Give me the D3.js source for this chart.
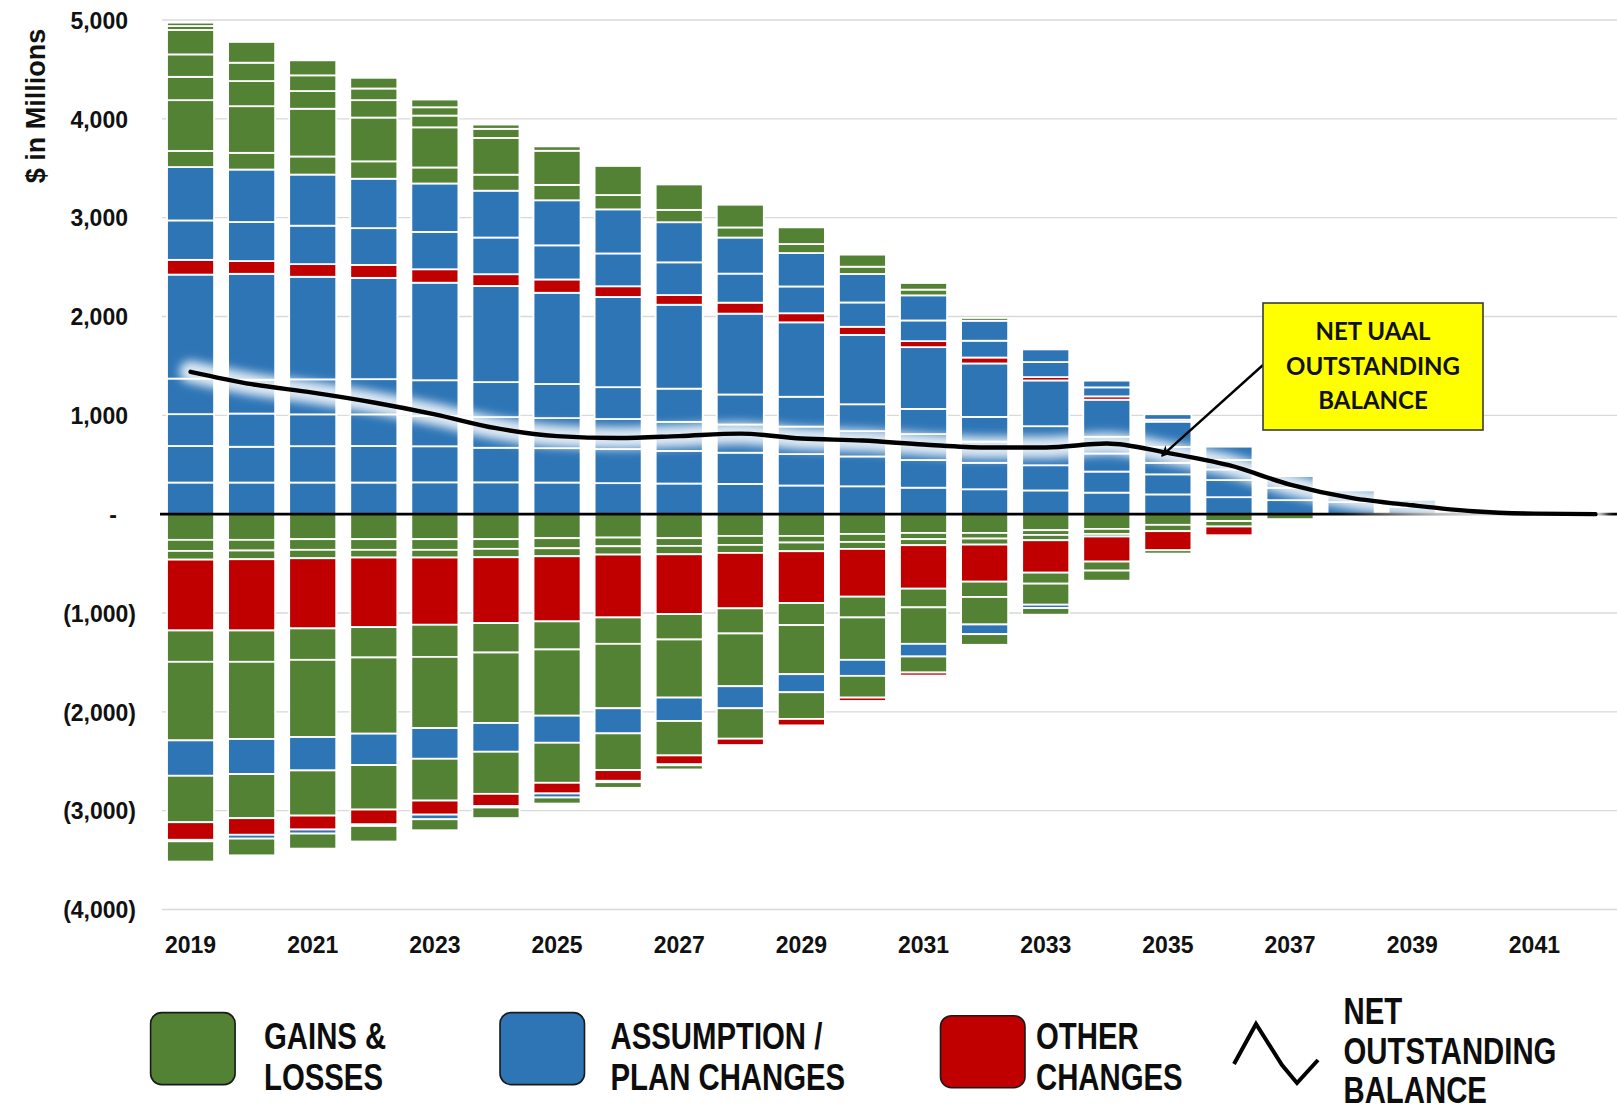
<!DOCTYPE html>
<html>
<head>
<meta charset="utf-8">
<script src="https://cdn.jsdelivr.net/npm/d3@7"></script>
<style>
  html, body { margin: 0; padding: 0; background: #ffffff; }
  svg { display: block; }
</style>
</head>
<body>
<svg id="chart" width="1617" height="1112"></svg>
<script>
// ---- categories and axes ----
const years = [2019, 2020, 2021, 2022, 2023, 2024, 2025, 2026, 2027, 2028, 2029, 2030,
               2031, 2032, 2033, 2034, 2035, 2036, 2037, 2038, 2039, 2040, 2041, 2042];
const labelYears = [2019, 2021, 2023, 2025, 2027, 2029, 2031, 2033, 2035, 2037, 2039, 2041];
const yTicks = [5000, 4000, 3000, 2000, 1000, 0, -1000, -2000, -3000, -4000];

// ---- amortization layers above zero, bottom to top ($ millions) ----
const planUp1  = [320, 320, 320, 320, 322, 322, 320, 314, 310, 306, 290, 282, 268, 252, 240, 218, 200, 172, 142, 122, 75, 30, 0, 0];
const planUp2  = [370, 362, 368, 370, 365, 350, 348, 345, 330, 316, 318, 302, 280, 268, 255, 213, 203, 173, 125, 118, 70, 0, 0, 0];
const planUp3  = [322, 336, 322, 320, 306, 310, 304, 304, 294, 285, 278, 256, 262, 214, 192, 183, 117, 108, 118, 0, 0, 0, 0, 0];
const planUp4  = [360, 342, 354, 356, 362, 354, 345, 322, 336, 304, 302, 272, 255, 250, 203, 169, 160, 95, 0, 0, 0, 0, 0, 0];
const planUp5  = [1052, 1072, 1038, 1025, 987, 973, 923, 913, 849, 818, 753, 702, 625, 541, 463, 375, 256, 135, 0, 0, 0, 0, 0, 0];
const otherUp1 = [149, 129, 128, 131, 136, 119, 135, 108, 98, 111, 92, 82, 61, 60, 34, 34, 20, 0, 0, 0, 0, 0, 0, 0];
const planUp6  = [399, 395, 389, 372, 378, 371, 345, 332, 331, 294, 271, 246, 209, 170, 152, 91, 55, 0, 0, 0, 0, 0, 0, 0];
const planUp7  = [540, 531, 517, 500, 490, 474, 456, 446, 406, 365, 338, 288, 254, 202, 128, 68, 0, 0, 0, 0, 0, 0, 0, 0];
const gainUp1  = [163, 169, 183, 176, 162, 162, 156, 145, 125, 102, 91, 74, 58, 28, 0, 0, 0, 0, 0, 0, 0, 0, 0, 0];
const gainUp2  = [514, 472, 483, 443, 406, 372, 345, 294, 257, 230, 169, 122, 67, 0, 0, 0, 0, 0, 0, 0, 0, 0, 0, 0];
const gainUp3  = [236, 254, 179, 176, 119, 92, 44, 0, 0, 0, 0, 0, 0, 0, 0, 0, 0, 0, 0, 0, 0, 0, 0, 0];
const gainUp4  = [227, 186, 159, 118, 84, 43, 0, 0, 0, 0, 0, 0, 0, 0, 0, 0, 0, 0, 0, 0, 0, 0, 0, 0];
const gainUp5  = [247, 210, 152, 108, 78, 0, 0, 0, 0, 0, 0, 0, 0, 0, 0, 0, 0, 0, 0, 0, 0, 0, 0, 0];
const gainUp6  = [40, 0, 0, 0, 0, 0, 0, 0, 0, 0, 0, 0, 0, 0, 0, 0, 0, 0, 0, 0, 0, 0, 0, 0];
const gainUp7  = [34, 0, 0, 0, 0, 0, 0, 0, 0, 0, 0, 0, 0, 0, 0, 0, 0, 0, 0, 0, 0, 0, 0, 0];

// ---- amortization layers below zero, from zero downward (magnitudes) ----
const gainDn1  = [260, 260, 253, 253, 253, 253, 243, 237, 243, 220, 220, 200, 190, 190, 162, 149, 108, 70, 50, 0, 0, 0, 0, 0];
const gainDn2  = [112, 108, 108, 108, 108, 98, 102, 88, 78, 91, 67, 81, 63, 57, 48, 51, 64, 55, 0, 0, 0, 0, 0, 0];
const gainDn3  = [88, 88, 85, 78, 78, 85, 81, 84, 85, 81, 88, 71, 61, 61, 54, 26, 0, 0, 0, 0, 0, 0, 0, 0];
const otherDn1 = [717, 721, 710, 704, 680, 666, 659, 636, 605, 561, 524, 483, 440, 375, 328, 254, 193, 88, 0, 0, 0, 0, 0, 0];
const gainDn4  = [317, 317, 318, 307, 325, 298, 284, 267, 257, 254, 223, 210, 189, 155, 111, 91, 34, 0, 0, 0, 0, 0, 0, 0];
const gainDn5  = [795, 781, 781, 771, 720, 713, 670, 652, 588, 534, 497, 429, 369, 278, 213, 102, 0, 0, 0, 0, 0, 0, 0, 0];
const planDn1  = [358, 355, 338, 318, 311, 291, 274, 254, 237, 223, 183, 162, 128, 98, 34, 0, 0, 0, 0, 0, 0, 0, 0, 0];
const gainDn6  = [470, 446, 457, 450, 423, 426, 405, 372, 348, 308, 270, 220, 162, 108, 67, 0, 0, 0, 0, 0, 0, 0, 0, 0];
const otherDn2 = [178, 168, 141, 150, 142, 122, 108, 108, 90, 64, 65, 34, 31, 0, 0, 0, 0, 0, 0, 0, 0, 0, 0, 0];
const planDn2  = [15, 39, 41, 16, 47, 16, 41, 14, 10, 0, 0, 0, 0, 0, 0, 0, 0, 0, 0, 0, 0, 0, 0, 0];
const gainDn7  = [205, 169, 152, 157, 111, 107, 61, 57, 42, 0, 0, 0, 0, 0, 0, 0, 0, 0, 0, 0, 0, 0, 0, 0];

// ---- net UAAL outstanding balance ----
const netBalance = [1440, 1315, 1230, 1130, 1010, 870, 790, 770, 790, 815, 765, 745,
                    705, 675, 675, 715, 620, 495, 300, 165, 90, 30, 5, 0];

const colors = { gains: "#548235", plan: "#2E75B6", other: "#C00000" };

// stacking order: positive layers first, then negative ones
const layers = [
  { key: "planUp1", cat: "plan", sign: 1, values: planUp1 },
  { key: "planUp2", cat: "plan", sign: 1, values: planUp2 },
  { key: "planUp3", cat: "plan", sign: 1, values: planUp3 },
  { key: "planUp4", cat: "plan", sign: 1, values: planUp4 },
  { key: "planUp5", cat: "plan", sign: 1, values: planUp5 },
  { key: "otherUp1", cat: "other", sign: 1, values: otherUp1 },
  { key: "planUp6", cat: "plan", sign: 1, values: planUp6 },
  { key: "planUp7", cat: "plan", sign: 1, values: planUp7 },
  { key: "gainUp1", cat: "gains", sign: 1, values: gainUp1 },
  { key: "gainUp2", cat: "gains", sign: 1, values: gainUp2 },
  { key: "gainUp3", cat: "gains", sign: 1, values: gainUp3 },
  { key: "gainUp4", cat: "gains", sign: 1, values: gainUp4 },
  { key: "gainUp5", cat: "gains", sign: 1, values: gainUp5 },
  { key: "gainUp6", cat: "gains", sign: 1, values: gainUp6 },
  { key: "gainUp7", cat: "gains", sign: 1, values: gainUp7 },
  { key: "gainDn1", cat: "gains", sign: -1, values: gainDn1 },
  { key: "gainDn2", cat: "gains", sign: -1, values: gainDn2 },
  { key: "gainDn3", cat: "gains", sign: -1, values: gainDn3 },
  { key: "otherDn1", cat: "other", sign: -1, values: otherDn1 },
  { key: "gainDn4", cat: "gains", sign: -1, values: gainDn4 },
  { key: "gainDn5", cat: "gains", sign: -1, values: gainDn5 },
  { key: "planDn1", cat: "plan", sign: -1, values: planDn1 },
  { key: "gainDn6", cat: "gains", sign: -1, values: gainDn6 },
  { key: "otherDn2", cat: "other", sign: -1, values: otherDn2 },
  { key: "planDn2", cat: "plan", sign: -1, values: planDn2 },
  { key: "gainDn7", cat: "gains", sign: -1, values: gainDn7 }
];

const legendItems = [
  { cat: "gains", lines: ["GAINS &", "LOSSES"] },
  { cat: "plan", lines: ["ASSUMPTION /", "PLAN CHANGES"] },
  { cat: "other", lines: ["OTHER", "CHANGES"] }
];
const lineLegend = ["NET", "OUTSTANDING", "BALANCE"];
const calloutLines = ["NET UAAL", "OUTSTANDING", "BALANCE"];

// ---- layout ----
const svg = d3.select("#chart");
const W = 1617;
const plotLeft = 160, plotRight = 1626;
const tickFont = "'Liberation Sans', Arial, sans-serif";
const legendFont = "'Liberation Sans', Arial, sans-serif";
const squeeze = 0.815; // condensed look for the legend captions

svg.append("rect").attr("width", W).attr("height", 1112).attr("fill", "#ffffff");

const x = d3.scaleBand().domain(years).range([plotLeft, plotRight])
  .paddingInner(0.23).paddingOuter(0.115);
const y = d3.scaleLinear().domain([-4000, 5000]).range([909.5, 20]);

const defs = svg.append("defs");
defs.append("filter").attr("id", "glow")
  .attr("x", "-5%").attr("y", "-40%").attr("width", "110%").attr("height", "180%")
  .append("feGaussianBlur").attr("stdDeviation", 5);
defs.append("marker").attr("id", "arrowHead")
  .attr("viewBox", "0 0 10 10").attr("refX", 9).attr("refY", 5)
  .attr("markerWidth", 11).attr("markerHeight", 11).attr("markerUnits", "userSpaceOnUse")
  .attr("orient", "auto")
  .append("path").attr("d", "M0,0 L10,5 L0,10 L3,5 Z").attr("fill", "#000");

// gridlines
svg.append("g").selectAll("line").data(yTicks.filter(v => v !== 0)).join("line")
  .attr("x1", 162).attr("x2", W)
  .attr("y1", d => y(d)).attr("y2", d => y(d))
  .attr("stroke", "#d9d9d9").attr("stroke-width", 1.4);

// stacked bars
const rows = years.map((yr, i) => {
  const row = { year: yr };
  layers.forEach(l => { row[l.key] = l.sign * l.values[i]; });
  return row;
});
const series = d3.stack().keys(layers.map(l => l.key)).offset(d3.stackOffsetDiverging)(rows);
const catOf = Object.fromEntries(layers.map(l => [l.key, l.cat]));

svg.append("g").selectAll("g").data(series).join("g")
  .attr("fill", s => colors[catOf[s.key]])
  .selectAll("rect").data(s => s.filter(d => d[1] !== d[0])).join("rect")
  .attr("x", d => x(d.data.year))
  .attr("width", x.bandwidth())
  .attr("y", d => y(d[1]))
  .attr("height", d => y(d[0]) - y(d[1]))
  .attr("stroke", "#ffffff").attr("stroke-width", 1.8);

// zero line
svg.append("line").attr("x1", 160).attr("x2", W)
  .attr("y1", y(0)).attr("y2", y(0))
  .attr("stroke", "#000").attr("stroke-width", 2.6);

// net balance line with soft white glow
const netLine = d3.line()
  .x((d, i) => x(years[i]) + x.bandwidth() / 2)
  .y(d => y(d))
  .curve(d3.curveMonotoneX);
svg.append("path").datum(netBalance).attr("d", netLine)
  .attr("fill", "none").attr("stroke", "#ffffff").attr("stroke-opacity", 0.85)
  .attr("stroke-width", 22).attr("stroke-linecap", "round")
  .attr("filter", "url(#glow)");
svg.append("path").datum(netBalance).attr("d", netLine)
  .attr("fill", "none").attr("stroke", "#000").attr("stroke-width", 4.4)
  .attr("stroke-linejoin", "round").attr("stroke-linecap", "round");

// y axis labels (accounting style)
const fmtY = v => v === 0 ? "-" : v < 0 ? "(" + d3.format(",")(-v) + ")" : d3.format(",")(v);
const yAxis = svg.append("g").attr("transform", "translate(136,0)")
  .call(d3.axisLeft(y).tickValues(yTicks).tickFormat(fmtY).tickSize(0).tickPadding(0));
yAxis.select(".domain").remove();
yAxis.selectAll("text")
  .attr("font-family", tickFont).attr("font-weight", "bold").attr("font-size", 23)
  .attr("fill", "#111")
  .attr("x", d => d > 0 ? -8 : d === 0 ? -19 : 0)
  .attr("dy", "0.36em");

// y axis title
svg.append("text")
  .attr("transform", "translate(45,106) rotate(-90)")
  .attr("text-anchor", "middle")
  .attr("font-family", tickFont).attr("font-weight", "bold").attr("font-size", 27)
  .attr("fill", "#111")
  .text("$ in Millions");

// x axis labels
const xAxis = svg.append("g").attr("transform", "translate(0,936)")
  .call(d3.axisBottom(x).tickValues(labelYears).tickSize(0).tickPadding(0));
xAxis.select(".domain").remove();
xAxis.selectAll("text")
  .attr("font-family", tickFont).attr("font-weight", "bold").attr("font-size", 23)
  .attr("fill", "#111").attr("dy", "0.72em");

// callout box with arrow
svg.append("line")
  .attr("x1", 1263).attr("y1", 365)
  .attr("x2", x(2035) + x.bandwidth() / 2 - 6).attr("y2", y(netBalance[16]) + 3)
  .attr("stroke", "#000").attr("stroke-width", 2.4)
  .attr("marker-end", "url(#arrowHead)");
svg.append("rect").attr("x", 1263).attr("y", 303).attr("width", 220).attr("height", 127)
  .attr("fill", "#ffff00").attr("stroke", "#3a3a3a").attr("stroke-width", 1.6);
svg.append("g").selectAll("text").data(calloutLines).join("text")
  .attr("x", 1373).attr("y", (d, i) => 340 + i * 34.5)
  .attr("text-anchor", "middle")
  .attr("font-family", "Lato, 'Open Sans', sans-serif").attr("font-weight", "bold")
  .attr("font-size", 24).attr("fill", "#111")
  .text(d => d);

// legend
const legendX = [150.6, 500, 940.5];
const legendTextX = [264, 610.5, 1036];
const legend = svg.append("g");
const caption = (tx, ty, t) => legend.append("text")
  .attr("transform", `translate(${tx},${ty}) scale(${squeeze},1)`)
  .attr("font-family", legendFont).attr("font-weight", "bold").attr("font-size", 36)
  .attr("fill", "#0d0d0d")
  .text(t);
legendItems.forEach((item, i) => {
  legend.append("rect")
    .attr("x", legendX[i]).attr("y", i === 2 ? 1015.7 : 1012.6)
    .attr("width", 84.5).attr("height", 72).attr("rx", 11)
    .attr("fill", colors[item.cat]).attr("stroke", "#1a1a1a").attr("stroke-width", 1.6);
  item.lines.forEach((t, j) => caption(legendTextX[i], 1049 + j * 40.5, t));
});
legend.append("path")
  .attr("d", d3.line()([[1234, 1064], [1256, 1024], [1282, 1065], [1297, 1083], [1318, 1060]]))
  .attr("fill", "none").attr("stroke", "#000").attr("stroke-width", 4)
  .attr("stroke-linejoin", "miter");
lineLegend.forEach((t, j) => caption(1343.5, 1024 + j * 39.5, t));
</script>
</body>
</html>
